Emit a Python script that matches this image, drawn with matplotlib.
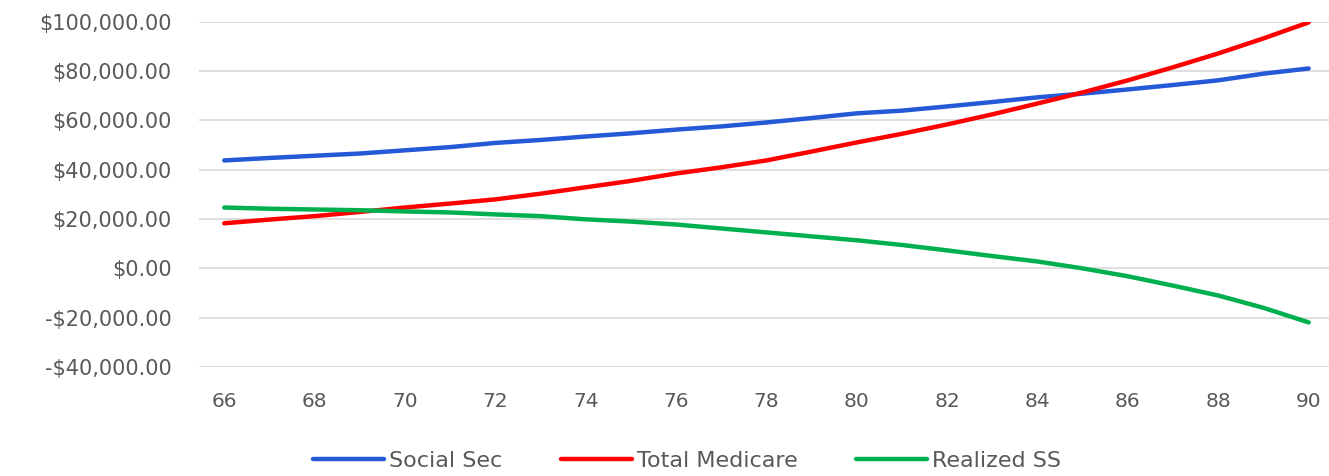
import matplotlib.pyplot as plt
from matplotlib.ticker import FuncFormatter, MultipleLocator

# ages on the x axis
ages = list(range(66, 91))

# values (dollars)
social_sec = [43800, 44800, 45700, 46600, 47900, 49200, 50900, 52100, 53500, 54800,
              56300, 57600, 59200, 61000, 62900, 64000, 65700, 67500, 69400, 70900,
              72600, 74400, 76300, 79000, 81100]
total_medicare = [18300, 19800, 21200, 22900, 24700, 26300, 28000, 30300, 32900, 35500,
                  38500, 41000, 43800, 47400, 51100, 54600, 58400, 62500, 66900, 71400,
                  76300, 81600, 87200, 93300, 99800]
realized_ss = [24700, 24200, 23900, 23600, 23100, 22700, 21900, 21200, 19900, 19000,
               17800, 16200, 14600, 13000, 11400, 9500, 7300, 5000, 2800, 0,
               -3200, -7000, -11000, -16000, -21900]

series_names = ["Social Sec", "Total Medicare", "Realized SS"]
series_colors = ["#2459D8", "#FF0000", "#00B04F"]

fig = plt.figure(figsize=(13.29, 4.76), dpi=100)
ax = fig.add_axes([0.150, 0.229, 0.850, 0.725])

for vals, name, col in zip([social_sec, total_medicare, realized_ss], series_names, series_colors):
    ax.plot(ages, vals, color=col, lw=3.2, label=name, solid_capstyle="round")

ax.set_xlim(65.45, 90.45)
ax.set_ylim(-40000, 100000)
ax.xaxis.set_major_locator(MultipleLocator(2))
ax.yaxis.set_major_locator(MultipleLocator(20000))


def money(v, pos):
    if v < 0:
        return f"-${-v:,.2f}"
    return f"${v:,.2f}"


ax.yaxis.set_major_formatter(FuncFormatter(money))
ax.grid(axis="y", color="#D9D9D9", lw=1.2)
ax.set_axisbelow(True)
for s in ax.spines.values():
    s.set_visible(False)
ax.tick_params(length=0, labelsize=14.5, labelcolor="#595959")
ax.tick_params(axis="y", labelsize=15, pad=20)
ax.tick_params(axis="x", pad=18)

fig.legend(loc="center", bbox_to_anchor=(0.517, 0.031), ncol=3, frameon=False,
           fontsize=16, labelcolor="#595959", handlelength=3.2, handletextpad=0.25,
           columnspacing=2.6)

fig.savefig("out.png", dpi=100)
